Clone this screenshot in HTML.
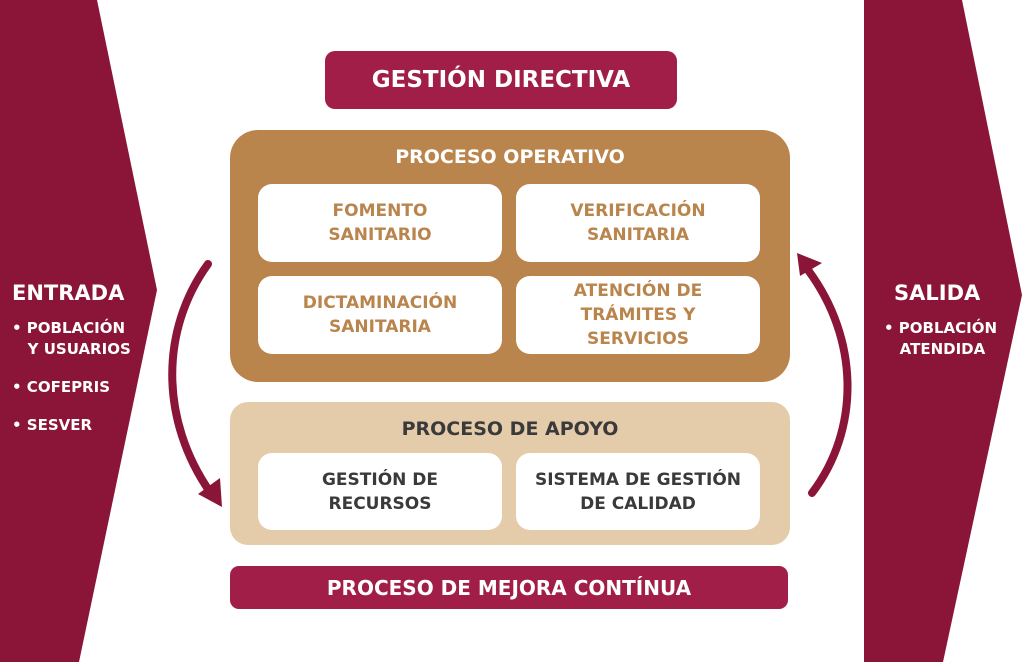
<!DOCTYPE html>
<html><head><meta charset="utf-8"><style>
body{margin:0;width:1024px;height:662px;overflow:hidden;background:#fff;font-family:"DejaVu Sans","Liberation Sans",sans-serif;}
.a{position:absolute;box-sizing:border-box;display:flex;align-items:center;justify-content:center;text-align:center;font-weight:bold;}
.w{background:#fff;border-radius:14px;font-size:17px;line-height:24px}
</style></head><body>
<svg width="1024" height="662" style="position:absolute;left:0;top:0">
<polygon points="0,0 97,0 157,290 79,662 0,662" fill="#8a1538"/>
<polygon points="864,0 962,0 1022,295 943,662 864,662" fill="#8a1538"/>
<path d="M208,264 C160,330 160,420 210,492" fill="none" stroke="#8a1538" stroke-width="8" stroke-linecap="round"/>
<polygon points="222,507 198,494 220,478" fill="#8a1538"/>
<path d="M812,493 C860,430 860,340 808,270" fill="none" stroke="#8a1538" stroke-width="8" stroke-linecap="round"/>
<polygon points="797,253 822,263 800,276" fill="#8a1538"/>
</svg>
<div class="a" style="left:12px;top:278px;width:128px;height:30px;color:#fff;font-size:21px;justify-content:flex-start">ENTRADA</div>
<div style="position:absolute;left:12px;top:318px;color:#fff;font-weight:bold;font-size:15px;line-height:21px">• POBLACIÓN<br>&nbsp;&nbsp;&nbsp;Y USUARIOS<div style="height:17px"></div>• COFEPRIS<div style="height:17px"></div>• SESVER</div>
<div class="a" style="left:884px;top:278px;width:110px;height:30px;color:#fff;font-size:21px;justify-content:flex-start;padding-left:10px">SALIDA</div>
<div style="position:absolute;left:884px;top:318px;color:#fff;font-weight:bold;font-size:15px;line-height:21px">• POBLACIÓN<br>&nbsp;&nbsp;&nbsp;ATENDIDA</div>
<div class="a" style="left:325px;top:51px;width:352px;height:58px;background:#a01e48;border-radius:10px;color:#fff;font-size:23px">GESTIÓN DIRECTIVA</div>
<div class="a" style="left:230px;top:130px;width:560px;height:252px;background:#b9854c;border-radius:28px;align-items:flex-start;padding-top:16px;color:#fff;font-size:19px">PROCESO OPERATIVO</div>
<div class="a w" style="left:258px;top:184px;width:244px;height:78px;color:#b9854c">FOMENTO<br>SANITARIO</div>
<div class="a w" style="left:516px;top:184px;width:244px;height:78px;color:#b9854c">VERIFICACIÓN<br>SANITARIA</div>
<div class="a w" style="left:258px;top:276px;width:244px;height:78px;color:#b9854c">DICTAMINACIÓN<br>SANITARIA</div>
<div class="a w" style="left:516px;top:276px;width:244px;height:78px;color:#b9854c;line-height:24px">ATENCIÓN DE<br>TRÁMITES Y<br>SERVICIOS</div>
<div class="a" style="left:230px;top:402px;width:560px;height:143px;background:#e4ccaa;border-radius:18px;align-items:flex-start;padding-top:16px;color:#3a3a3a;font-size:19px">PROCESO DE APOYO</div>
<div class="a w" style="left:258px;top:453px;width:244px;height:77px;color:#3a3a3a">GESTIÓN DE<br>RECURSOS</div>
<div class="a w" style="left:516px;top:453px;width:244px;height:77px;color:#3a3a3a">SISTEMA DE GESTIÓN<br>DE CALIDAD</div>
<div class="a" style="left:230px;top:566px;width:558px;height:43px;background:#a01e48;border-radius:9px;color:#fff;font-size:20px">PROCESO DE MEJORA CONTÍNUA</div>
</body></html>
